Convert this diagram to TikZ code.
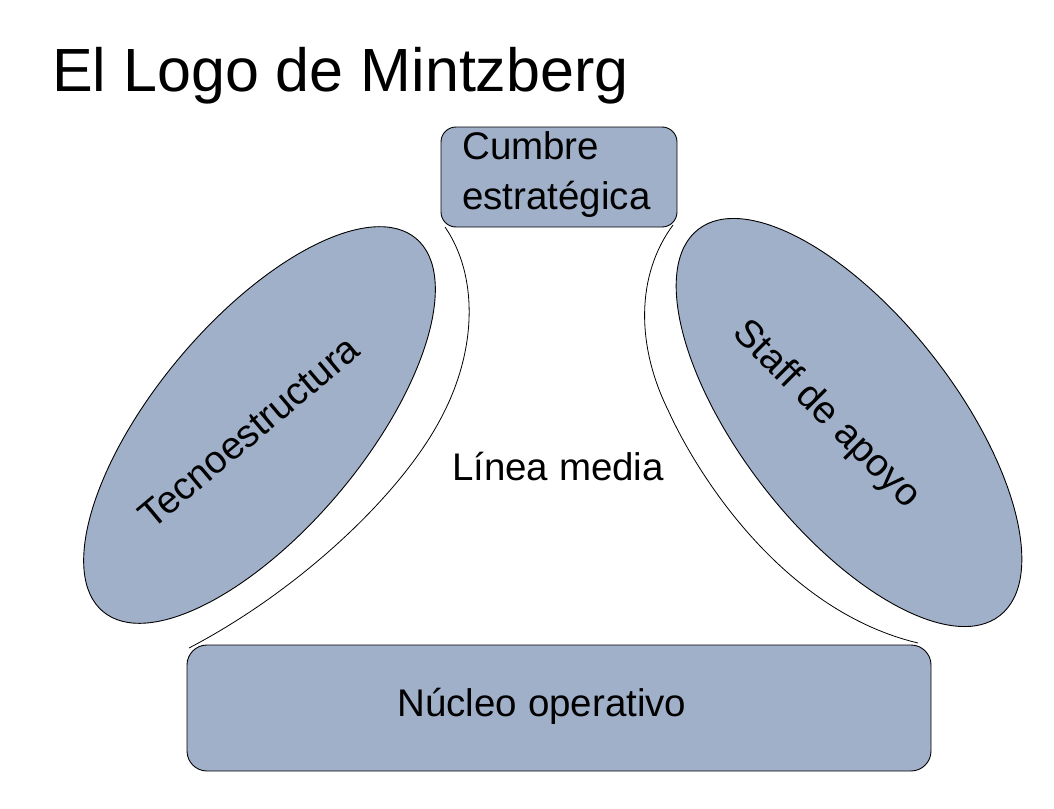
\documentclass[tikz,border=0pt]{standalone}
\usepackage{fontspec}
\setmainfont{Liberation Sans}
\usetikzlibrary{shapes.geometric}
\definecolor{boxfill}{RGB}{161,176,201}
\begin{document}
\begin{tikzpicture}[x=1pt,y=-1pt,
  shapebox/.style={draw=black, line width=0.9pt, fill=boxfill, inner sep=0pt},
  lbl/.style={font=\fontsize{38.5}{50}\selectfont, inner sep=0pt},
  curve/.style={draw=black, line width=0.8pt}]
\useasboundingbox (0,0) rectangle (1054,808);
\node[anchor=base west, inner sep=0pt, font=\fontsize{61}{70}\selectfont] (title) at (52,92) {El Logo de Mintzberg};
% ellipses
\node[shapebox, ellipse, minimum width=487pt, minimum height=209pt, rotate=50] (tecno) at (259.5,425) {};
\node[lbl, rotate=40] (tecnolbl) at (249,432) {Tecnoestructura};
\node[shapebox, ellipse, minimum width=490pt, minimum height=214pt, rotate=-52] (staff) at (849,422.5) {};
\node[lbl, rotate=-45] (stafflbl) at (826,415) {Staff de apoyo};
% boxes
\node[shapebox, rounded corners=15pt, minimum width=236pt, minimum height=100pt] (cumbre) at (559,177) {};
\node[lbl, align=left, anchor=base west] (cumbrelbl) at (462,209) {Cumbre\\estratégica};
\node[shapebox, rounded corners=20pt, minimum width=744pt, minimum height=126pt] (nucleo) at (559,708) {};
\node[lbl, anchor=base] (nucleolbl) at (542,716) {Núcleo operativo};
\node[lbl, anchor=base] (linea) at (558,480) {Línea media};
% curves
\coordinate (ltop) at (445,227);
\coordinate (lmid) at (440,420);
\coordinate (lbot) at (189,648);
\coordinate (rtop) at (673,225);
\coordinate (rmid) at (668,410);
\coordinate (rbot) at (918,643);
\draw[curve] (ltop) .. controls (478,275) and (478,350) .. (lmid)
             .. controls (400,495) and (300,590) .. (lbot);
\draw[curve] (rtop) .. controls (636,275) and (636,345) .. (rmid)
             .. controls (695,470) and (780,610) .. (rbot);
\end{tikzpicture}
\end{document}
